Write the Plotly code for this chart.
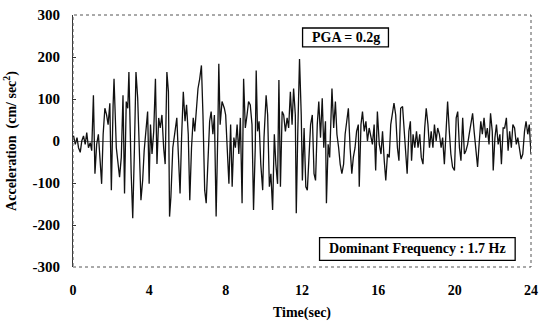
import plotly.graph_objects as go

time_s = [
    0.00, 0.03, 0.12, 0.21, 0.29, 0.38, 0.46, 0.55, 0.64, 0.72, 0.81, 0.90, 0.98, 1.07, 1.15, 1.24, 1.33,
    1.41, 1.50, 1.58, 1.67, 1.76, 1.84, 1.93, 2.01, 2.10, 2.15, 2.27, 2.36, 2.44, 2.53, 2.62, 2.70, 2.79,
    2.87, 2.93, 3.05, 3.13, 3.22, 3.30, 3.39, 3.48, 3.56, 3.65, 3.73, 3.91, 3.99,
    4.06, 4.14, 4.23, 4.32, 4.40, 4.49, 4.57, 4.66, 4.75, 4.83, 4.92, 5.00, 5.06, 5.13, 5.23, 5.35, 5.44,
    5.52, 5.61, 5.69, 5.78, 5.87, 5.95, 6.04, 6.12, 6.21, 6.30, 6.38, 6.47, 6.55, 6.64, 6.73, 6.81, 6.85,
    6.90, 6.98, 7.07, 7.16, 7.24, 7.33, 7.41, 7.50, 7.59, 7.64, 7.71, 7.81, 7.93,
    8.00, 8.08, 8.17, 8.26, 8.34, 8.43, 8.51, 8.60, 8.69, 8.77, 8.86, 8.94, 9.03, 9.12, 9.20, 9.29, 9.38,
    9.46, 9.55, 9.60, 9.67, 9.75, 9.84, 9.94, 10.01, 10.12, 10.20, 10.29, 10.37, 10.46, 10.55, 10.63, 10.72,
    10.79, 10.87, 10.96, 11.04, 11.13, 11.22, 11.30, 11.39, 11.48, 11.56, 11.65, 11.70, 11.78, 11.87, 11.96,
    12.02, 12.11, 12.20, 12.28, 12.37, 12.45, 12.54, 12.63, 12.71, 12.80, 12.88, 12.97, 13.06, 13.14, 13.23,
    13.28, 13.37, 13.45, 13.57, 13.66, 13.75, 13.83, 13.92, 14.00, 14.09, 14.18, 14.26, 14.35, 14.43, 14.52,
    14.61, 14.69, 14.78, 14.86, 14.95, 15.00, 15.09, 15.17, 15.26, 15.35, 15.43, 15.52, 15.60, 15.69, 15.78,
    15.86, 15.95,
    16.05, 16.14, 16.22, 16.31, 16.39, 16.48, 16.57, 16.65, 16.74, 16.82, 16.91, 17.00, 17.08, 17.17, 17.27,
    17.34, 17.43, 17.51, 17.60, 17.68, 17.74, 17.82, 17.91, 18.00, 18.08, 18.17, 18.25, 18.34, 18.43, 18.51,
    18.60, 18.68, 18.77, 18.86, 18.94, 19.03, 19.11, 19.20, 19.29, 19.37, 19.46, 19.54, 19.63, 19.72, 19.80,
    19.89, 19.99,
    20.08, 20.16, 20.25, 20.33, 20.42, 20.51, 20.59, 20.68, 20.76, 20.85, 20.94, 21.02, 21.11, 21.20, 21.28,
    21.37, 21.45, 21.54, 21.63, 21.71, 21.80, 21.88, 21.97, 22.02, 22.11, 22.19, 22.28, 22.37, 22.45, 22.54,
    22.62, 22.71, 22.80, 22.88, 22.97, 23.05, 23.14, 23.23, 23.31, 23.40, 23.48, 23.57, 23.66, 23.74, 23.83,
    23.91, 24.00,
]
accel = [
    10, 12, -8, 8, -16, -27, 0, 12, -8, 20, -16, -4, -23, 109, -78, -8, 16,
    -39, -102, 16, 78, 62, 39, 90, -117, 82, 148, -16, -55, -86, -39, 109, -125, 94,
    78, 164, -78, -184, -16, 164, 102, -62, -141, -94, -23, 70, -102,
    39, -31, 23, 148, -55, 55, 31, 62, -16, -55, 164, 117, -180, -133, -16, 23, 55,
    -31, -125, 8, 117, 47, 86, 16, -141, -16, 55, 23, 86, 125, 148, 180, 62, -47,
    -117, -148, -55, 47, 70, 16, 62, -180, 23, 184, 39, 94, 78,
    62, -16, -102, 39, -109, 8, -16, 39, -31, 55, -148, 148, 31, 62, 94, 86, 39,
    -164, -16, 168, 23, 47, -55, -117, 8, 109, 62, -109, -78, -164, 16, -55, -102,
    145, -109, 70, 62, 23, 55, 31, 117, 39, 125, 62, -172, 23, 195, 62,
    -94, 31, -109, -117, -23, 39, 62, -78, -94, 39, 94, 8, 102, -16, 47,
    -148, -8, -39, 125, 31, 94, 16, -16, -55, -78, -55, 16, 55, 78, -16,
    -78, -39, -16, 23, 39, -109, 39, 70, 23, 47, 0, 31, 8, -8, 39,
    -70, 70,
    -8, -31, 23, -47, -94, -31, -39, 39, 70, 90, 62, -16, -47, 78, 82,
    39, -31, -78, 23, 47, -47, 16, -16, 23, -16, 16, -39, -55, 31, 78,
    39, -16, 23, -16, 39, 0, 31, 16, -16, 8, -55, 16, 94, 23, -31,
    -62, -70,
    55, 70, -16, -47, 55, -31, -23, -8, 16, 39, 66, 23, -23, -62, -8,
    47, 16, 55, 8, 31, -8, 66, 23, -70, 8, 39, -8, 16, -55, 31,
    31, 55, -23, 23, -16, 39, 31, -8, 8, -23, -43, -31, 23, 47, 16,
    39, -31,
]

x_ticks = [0, 4, 8, 12, 16, 20, 24]
y_ticks = [-300, -200, -100, 0, 100, 200, 300]

serif = "Liberation Serif"
x_tick_font = dict(family=serif, size=14, color="black", weight="bold")
y_tick_font = dict(family=serif, size=15, color="black", weight="bold")

fig = go.Figure()
fig.add_trace(go.Scatter(
    x=time_s, y=accel, mode="lines",
    line=dict(color="#111111", width=1.3),
    showlegend=False, hoverinfo="skip",
))

fig.update_layout(
    width=545, height=326,
    margin=dict(l=73, r=7, t=11, b=59),
    paper_bgcolor="white", plot_bgcolor="white",
    xaxis=dict(
        range=[0, 24], tickvals=x_ticks, ticktext=[str(v) for v in x_ticks],
        showgrid=False, zeroline=False, showline=False,
        ticks="", tickfont=x_tick_font, ticklabelstandoff=13,
        title=dict(text="<b>Time(sec)</b>", font=dict(family=serif, size=14, color="black"), standoff=10),
    ),
    yaxis=dict(
        range=[-300, 300], tickvals=y_ticks, ticktext=[str(v) for v in y_ticks],
        showgrid=False, zeroline=True, zerolinecolor="#777777", zerolinewidth=1,
        showline=True, linecolor="#333333", linewidth=1,
        ticks="inside", ticklen=3, tickcolor="#333333",
        tickfont=y_tick_font, ticklabelstandoff=9,
        title=dict(text="<b>Acceleration  (cm/ sec<sup>2</sup>)</b>",
                   font=dict(family=serif, size=14, color="black"), standoff=12),
    ),
    shapes=[
        dict(type="rect", xref="paper", yref="paper", x0=0, x1=1, y0=0, y1=1,
             line=dict(color="#555555", width=1, dash="dot"), layer="above"),
        dict(type="rect", xref="x", yref="y", x0=12.03, x1=16.53, y0=224, y1=269,
             line=dict(color="black", width=1.3), fillcolor="white", layer="above"),
        dict(type="rect", xref="x", yref="y", x0=12.92, x1=23.17, y0=-284, y1=-230,
             line=dict(color="black", width=1.3), fillcolor="white", layer="above"),
    ],
    annotations=[
        dict(x=14.28, y=246, xref="x", yref="y", text="<b>PGA = 0.2g</b>", showarrow=False,
             font=dict(family=serif, size=14, color="black")),
        dict(x=18.05, y=-257, xref="x", yref="y", text="<b>Dominant Frequency : 1.7 Hz</b>", showarrow=False,
             font=dict(family=serif, size=14, color="black")),
    ],
)

fig.write_html("out.html")
